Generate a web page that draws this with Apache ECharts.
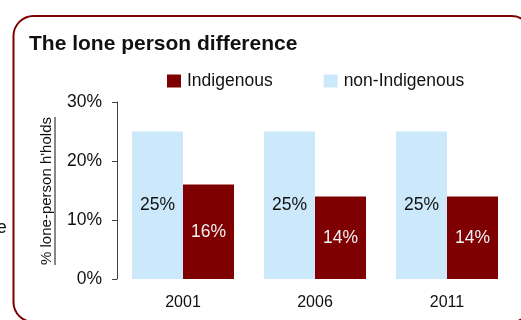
<!DOCTYPE html>
<html>
<head>
<meta charset="utf-8">
<script src="https://cdn.jsdelivr.net/npm/echarts@6/dist/echarts.min.js"></script>
<style>
  html, body { margin: 0; padding: 0; background: #fff; }
  #chart { width: 521px; height: 320px; }
</style>
</head>
<body>
<div id="chart"></div>
<script>
// Census years
const years = ['2001', '2006', '2011'];
// Share of households that are lone-person households (%)
const nonIndigenous = [25, 25, 25];
const indigenous = [16, 14, 14];
// Value axis ticks
const yTicks = [0, 10, 20, 30];

const RED = '#7f0000';
const BLUE = '#cce9fb';
const FONT = '"Liberation Sans", Arial, Helvetica, sans-serif';

const chart = echarts.init(document.getElementById('chart'), null, { renderer: 'canvas' });

chart.setOption({
  animation: false,
  backgroundColor: '#fff',
  textStyle: { fontFamily: FONT },
  title: {
    text: 'The lone person difference',
    left: 29,
    top: 34,
    padding: 0,
    textStyle: { fontFamily: FONT, fontSize: 21, fontWeight: 'bold', color: '#111' }
  },
  legend: {
    data: ['Indigenous', 'non-Indigenous'],
    left: 167,
    top: 72,
    padding: 0,
    itemWidth: 14,
    itemHeight: 13,
    itemGap: 51,
    icon: 'rect',
    textStyle: { fontFamily: FONT, fontSize: 17.5, color: '#111', padding: [0, 0, 0, 1] }
  },
  grid: { left: 117, right: 8, top: 102, bottom: 41, containLabel: false },
  xAxis: {
    type: 'category',
    data: years,
    axisLine: { show: false },
    axisTick: { show: false },
    axisLabel: { fontFamily: FONT, fontSize: 16, color: '#111', margin: 16 }
  },
  yAxis: {
    type: 'value',
    min: yTicks[0],
    max: yTicks[yTicks.length - 1],
    interval: 10,
    axisLine: { show: true, lineStyle: { color: '#404040', width: 1 } },
    axisTick: { show: true, length: 5, lineStyle: { color: '#404040' } },
    splitLine: { show: false },
    axisLabel: {
      fontFamily: FONT, fontSize: 17.5, color: '#111', margin: 15,
      formatter: v => v + '%'
    }
  },
  series: [
    {
      name: 'non-Indigenous',
      type: 'bar',
      data: nonIndigenous,
      barGap: '0%',
      barCategoryGap: '22.7%',
      itemStyle: { color: BLUE },
      label: {
        show: true, position: 'inside', formatter: '{c}%',
        fontFamily: FONT, fontSize: 17.5, color: '#111'
      }
    },
    {
      name: 'Indigenous',
      type: 'bar',
      data: indigenous,
      barGap: '0%',
      barCategoryGap: '22.7%',
      itemStyle: { color: RED },
      label: {
        show: true, position: 'inside', formatter: '{c}%',
        fontFamily: FONT, fontSize: 17.5, color: '#f2f2f2'
      }
    }
  ],
  graphic: [
    // Panel frame
    {
      type: 'rect',
      shape: { x: 13.5, y: 16, width: 518, height: 306, r: 20 },
      style: { fill: null, stroke: RED, lineWidth: 2 },
      z: 0
    },
    // Trailing letter of neighbouring text
    {
      type: 'text',
      x: -3, y: 219,
      style: { text: 'e', fontFamily: FONT, fontSize: 17.5, fill: '#111' }
    },
    // Y axis title, rotated and underlined
    {
      type: 'text',
      x: 46.5, y: 191,
      rotation: Math.PI / 2,
      style: {
        text: "% lone-person h'holds",
        fontFamily: FONT, fontSize: 15, fill: '#111',
        align: 'center', verticalAlign: 'middle'
      }
    },
    {
      type: 'line',
      shape: { x1: 55, y1: 117, x2: 55, y2: 265 },
      style: { stroke: '#111', lineWidth: 1 }
    }
  ]
});
</script>
</body>
</html>
